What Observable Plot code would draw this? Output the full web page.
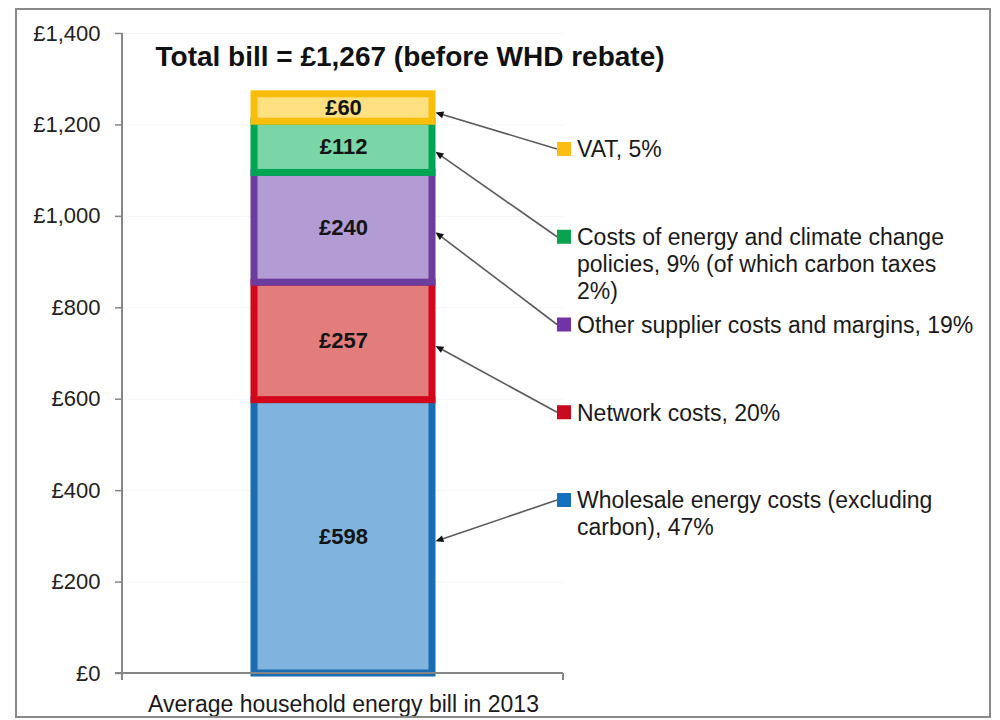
<!DOCTYPE html>
<html>
<head>
<meta charset="utf-8">
<script src="https://cdn.jsdelivr.net/npm/d3@7"></script>
<script src="https://cdn.jsdelivr.net/npm/@observablehq/plot@0.6"></script>
<style>
  html, body { margin: 0; padding: 0; background: #fff; }
  #wrap { position: relative; width: 1000px; height: 720px; overflow: hidden; background: #fff; }
  #frame { position: absolute; left: 15px; top: 8px; width: 976px; height: 710px;
           border: 2px solid #8a8a8a; box-sizing: border-box; pointer-events: none; }
</style>
</head>
<body>
<div id="wrap"><div id="chart"></div><div id="frame"></div></div>
<script>
// ---------------- DATA ----------------
const category = "Average household energy bill in 2013";
const components = [
  "Wholesale energy costs (excluding carbon)",
  "Network costs",
  "Other supplier costs and margins",
  "Costs of energy and climate change policies",
  "VAT"
];
const amounts = [598, 257, 240, 112, 60];
const legendLabels = [
  ["Wholesale energy costs (excluding", "carbon), 47%"],
  ["Network costs, 20%"],
  ["Other supplier costs and margins, 19%"],
  ["Costs of energy and climate change", "policies, 9% (of which carbon taxes", "2%)"],
  ["VAT, 5%"]
];
const yTicks = [0, 200, 400, 600, 800, 1000, 1200, 1400];
const titlePrefix = "Total bill = ";
const titleSuffix = " (before WHD rebate)";

// ---------------- STYLE ----------------
const fillColors   = ["#80b4de", "#e27d7b", "#b39bd3", "#7ad5a7", "#fde080"];
const strokeColors = ["#1a6cb3", "#d2071c", "#6b3d9c", "#00a553", "#f9be0a"];
const keyColors    = ["#1570bd", "#c80a1e", "#7134a6", "#0aa24f", "#fbbd12"];
const FONT = "'Liberation Sans', Arial, Helvetica, sans-serif";
const BAR_STROKE = 7;
const TICK = 7;
const LEGEND_TOP = 149, LEGEND_STEP = 87.75, LINE_H = 27;
const SQ_X = 557, SQ = 14, TEXT_X = 577;
const ARROW_DY = 5, HEAD_LEN = 8, HEAD_W = 7;

// ---------------- DERIVED ----------------
const rows = components.map((c, i) => ({category, component: c, amount: amounts[i], i}));
const total = d3.sum(amounts);
const tops = Array.from(d3.cumsum(amounts));
const mids = amounts.map((a, i) => tops[i] - a / 2);
const gbp = v => "£" + d3.format(",")(v);

function decorations(index, scales, values, dims) {
  const {width, height, marginLeft, marginRight, marginBottom} = dims;
  const x = scales.x, y = scales.y;
  const bw = typeof x.bandwidth === "function" ? x.bandwidth() : 0;
  const barRight = x(category) + bw + BAR_STROKE / 2;
  const left = marginLeft, right = width - marginRight, base = height - marginBottom;
  const g = d3.create("svg:g");
  const axis = g.append("g").attr("stroke", "#868686").attr("stroke-width", 2).attr("fill", "none");
  axis.append("line").attr("x1", left).attr("x2", left).attr("y1", y(d3.max(yTicks))).attr("y2", base + TICK);
  axis.append("line").attr("x1", left - TICK).attr("x2", right).attr("y1", base).attr("y2", base);
  axis.append("line").attr("x1", right).attr("x2", right).attr("y1", base).attr("y2", base + TICK);

  const order = d3.range(components.length).reverse();
  order.forEach((i, k) => {
    const ly = LEGEND_TOP + k * LEGEND_STEP;
    const tx = barRight, ty = y(mids[i]) + ARROW_DY;
    const sx = SQ_X, sy = ly;
    const len = Math.hypot(sx - tx, sy - ty);
    const ux = (sx - tx) / len, uy = (sy - ty) / len;
    const bx = tx + ux * HEAD_LEN, by = ty + uy * HEAD_LEN;
    const px = -uy, py = ux;
    g.append("line").attr("x1", bx).attr("y1", by).attr("x2", sx).attr("y2", sy)
      .attr("stroke", "#5a5a5a").attr("stroke-width", 1.6);
    g.append("polygon")
      .attr("points", [[tx, ty], [bx + px * HEAD_W / 2, by + py * HEAD_W / 2], [bx - px * HEAD_W / 2, by - py * HEAD_W / 2]].map(p => p.join(",")).join(" "))
      .attr("fill", "#111");
    g.append("rect").attr("x", SQ_X).attr("y", ly - SQ / 2).attr("width", SQ).attr("height", SQ)
      .attr("fill", keyColors[i]);
    const t = g.append("text").attr("font-family", FONT).attr("font-size", 23)
      .attr("fill", "#1a1a1a").attr("text-anchor", "start");
    legendLabels[i].forEach((line, j) => {
      t.append("tspan").attr("x", TEXT_X).attr("y", ly + j * LINE_H).attr("dy", "0.36em").text(line);
    });
  });
  return g.node();
}

const chart = Plot.plot({
  width: 1000,
  height: 720,
  marginLeft: 122,
  marginRight: 437,
  marginTop: 33,
  marginBottom: 47,
  style: {fontFamily: FONT, fontSize: "22px", background: "transparent", color: "#1a1a1a"},
  x: {domain: [category], padding: 0.425, label: null},
  y: {domain: [0, 1400], label: null},
  color: {type: "identity"},
  marks: [
    Plot.gridY(yTicks, {stroke: "#000", strokeOpacity: 0.04}),
    Plot.barY(rows, Plot.stackY({
      x: "category", y: "amount",
      fill: d => fillColors[d.i], stroke: d => strokeColors[d.i], strokeWidth: BAR_STROKE
    })),
    Plot.text(rows, Plot.stackY({
      x: "category", y: "amount", text: d => gbp(d.amount),
      fontWeight: "bold", fontSize: 22, fill: "#141414"
    })),
    Plot.axisY({ticks: yTicks, tickFormat: gbp, tickSize: TICK, tickPadding: 15,
      stroke: "#868686", strokeWidth: 1.5, fill: "#222", fontSize: 22, label: null}),
    Plot.axisX({tickSize: 0, tickPadding: 22, fontSize: 23, fill: "#1a1a1a", label: null}),
    Plot.text([titlePrefix + gbp(total) + titleSuffix], {
      text: d => d, frameAnchor: "top-left", dx: 33, dy: 24, textAnchor: "start",
      lineAnchor: "middle", fontSize: 28, fontWeight: "bold", fill: "#111"
    }),
    decorations
  ]
});
document.getElementById("chart").append(chart);
</script>
</body>
</html>
